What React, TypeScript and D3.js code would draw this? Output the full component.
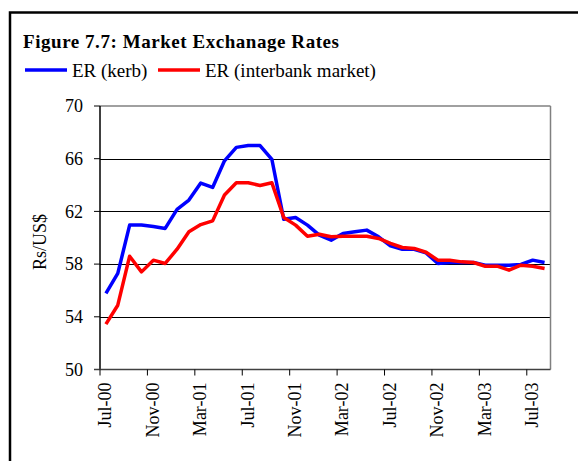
import React, { useEffect, useRef } from "react";
import * as d3 from "d3";

const months = [
  "Jul-00","Aug-00","Sep-00","Oct-00","Nov-00","Dec-00","Jan-01","Feb-01","Mar-01","Apr-01","May-01","Jun-01",
  "Jul-01","Aug-01","Sep-01","Oct-01","Nov-01","Dec-01","Jan-02","Feb-02","Mar-02","Apr-02","May-02","Jun-02",
  "Jul-02","Aug-02","Sep-02","Oct-02","Nov-02","Dec-02","Jan-03","Feb-03","Mar-03","Apr-03","May-03","Jun-03",
  "Jul-03","Aug-03"
];
const kerb = [
  55.77, 57.29, 60.96, 60.96, 60.85, 60.71, 62.15, 62.86, 64.15, 63.82, 65.84, 66.86,
  67.0, 67.0, 65.94, 61.4, 61.54, 60.96, 60.2, 59.82, 60.33, 60.45, 60.58, 60.07,
  59.38, 59.13, 59.13, 58.85, 58.05, 58.12, 58.12, 58.12, 57.92, 57.92, 57.92, 57.97,
  58.3, 58.12
];
const interbank = [
  53.44, 54.88, 58.6, 57.41, 58.3, 58.05, 59.13, 60.45, 61.0, 61.28, 63.24, 64.17,
  64.17, 63.97, 64.17, 61.54, 60.96, 60.12, 60.27, 60.07, 60.12, 60.12, 60.12, 59.95,
  59.57, 59.26, 59.19, 58.9, 58.3, 58.3, 58.17, 58.12, 57.84, 57.84, 57.54, 57.92,
  57.84, 57.67
];
const yTicks = [50, 54, 58, 62, 66, 70];
const xLabelEvery = 4;
const seriesNames = ["ER (kerb)", "ER (interbank market)"];
const title = "Figure 7.7: Market Exchanage Rates";

export default function App() {
  const ref = useRef<SVGSVGElement>(null);
  useEffect(() => {
    const svg = d3.select(ref.current);
    svg.selectAll("*").remove();
    const font = "'Liberation Serif', 'Times New Roman', serif";
    const L = 100, R = 550.5, T = 106, B = 369.5;

    // outer frame
    svg.append("rect").attr("x", 10).attr("y", 12.5).attr("width", 620).attr("height", 520)
      .attr("fill", "white").attr("stroke", "#000").attr("stroke-width", 2.5);

    svg.append("text").attr("x", 23).attr("y", 48).attr("font-family", font)
      .attr("font-weight", "bold").attr("font-size", 19).attr("letter-spacing", 0.55)
      .attr("fill", "#000").text(title);

    // legend
    const colors = ["#0000FF", "#FF0000"];
    const legX = [25, 158];
    seriesNames.forEach((n, i) => {
      svg.append("line").attr("x1", legX[i]).attr("x2", legX[i] + 42).attr("y1", 70).attr("y2", 70)
        .attr("stroke", colors[i]).attr("stroke-width", 3.5);
      svg.append("text").attr("x", legX[i] + 47).attr("y", 77).attr("font-family", font)
        .attr("font-size", 19).attr("fill", "#000").text(n);
    });

    const x = d3.scaleBand<string>().domain(months).range([L, R]).padding(0);
    const y = d3.scaleLinear().domain([50, 70]).range([B, T]);

    // grid
    yTicks.forEach((t) => {
      if (t === 50 || t === 70) return;
      svg.append("line").attr("x1", L).attr("x2", R).attr("y1", Math.round(y(t)) + 0.5).attr("y2", Math.round(y(t)) + 0.5)
        .attr("stroke", "#000").attr("stroke-width", 1);
    });
    // plot border top & right
    svg.append("line").attr("x1", L).attr("x2", R).attr("y1", T).attr("y2", T).attr("stroke", "#808080").attr("stroke-width", 1.5);
    svg.append("line").attr("x1", R).attr("x2", R).attr("y1", T).attr("y2", B).attr("stroke", "#808080").attr("stroke-width", 1.5);

    // y axis
    svg.append("line").attr("x1", L).attr("x2", L).attr("y1", T).attr("y2", B).attr("stroke", "#000").attr("stroke-width", 1.5);
    yTicks.forEach((t) => {
      svg.append("line").attr("x1", L - 6).attr("x2", L).attr("y1", y(t)).attr("y2", y(t)).attr("stroke", "#000").attr("stroke-width", 1);
      svg.append("text").attr("x", L - 17).attr("y", y(t)).attr("dy", "0.35em").attr("text-anchor", "end")
        .attr("font-family", font).attr("font-size", 18).attr("fill", "#000").text(String(t));
    });
    svg.append("text").attr("transform", `translate(46,${242}) rotate(-90)`).attr("text-anchor", "middle")
      .attr("font-family", font).attr("font-size", 18).attr("fill", "#000").text("Rs/US$");

    // x axis
    svg.append("line").attr("x1", L - 6).attr("x2", R).attr("y1", B).attr("y2", B).attr("stroke", "#404040").attr("stroke-width", 1.5);
    months.forEach((m, i) => {
      if (i % xLabelEvery !== 0) return;
      const xb = x(m)!;
      svg.append("line").attr("x1", xb).attr("x2", xb).attr("y1", B).attr("y2", B + 6).attr("stroke", "#000").attr("stroke-width", 1);
      const xc = xb + x.bandwidth() / 2;
      svg.append("text").attr("transform", `translate(${xc - 1},${B + 13}) rotate(-90)`)
        .attr("text-anchor", "end").attr("dy", "0.35em")
        .attr("font-family", font).attr("font-size", 18).attr("fill", "#000").text(m);
    });

    const line = d3.line<number>().x((_, i) => x(months[i])! + x.bandwidth() / 2).y((d) => y(d));
    [kerb, interbank].forEach((s, i) => {
      svg.append("path").attr("d", line(s)!).attr("fill", "none").attr("stroke", colors[i])
        .attr("stroke-width", 3.5).attr("stroke-linejoin", "round");
    });
  }, []);
  return (
    <svg ref={ref} width={578} height={461} style={{ position: "absolute", left: 0, top: 0, background: "white" }} />
  );
}
